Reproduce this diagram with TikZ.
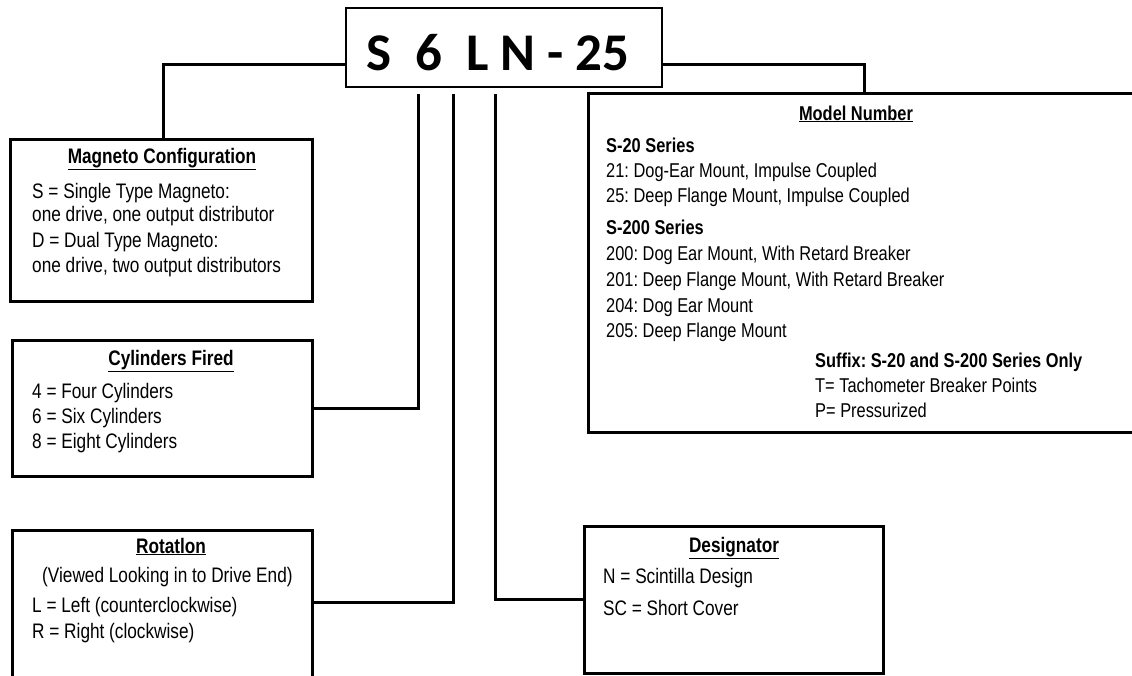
\documentclass[tikz,border=0pt]{standalone}
\usepackage{fontspec}
\setmainfont{Liberation Sans}[FakeStretch=0.82]
\newfontfamily\codefont{Carlito}
\frenchspacing
\begin{document}
\begin{tikzpicture}[x=1pt,y=-1pt,
  box/.style={draw, line width=3pt, rectangle, inner sep=0pt, outer sep=0pt},
  conn/.style={line width=3pt},
  txt/.style={anchor=base west, inner sep=0pt, font=\fontsize{21}{24}\selectfont},
  bld/.style={anchor=base west, inner sep=0pt, font=\fontsize{21}{24}\selectfont\bfseries},
  head/.style={anchor=base, inner sep=0pt, font=\fontsize{21}{24}\selectfont\bfseries},
  mtxt/.style={txt, font=\fontsize{20}{24}\selectfont},
  mbld/.style={bld, font=\fontsize{20}{24}\selectfont\bfseries},
  mhead/.style={head, font=\fontsize{20}{24}\selectfont\bfseries}]
\useasboundingbox (0,0) rectangle (1132,675);
\clip (0,0) rectangle (1132,675);
\fill[white] (0,0) rectangle (1132,675);

% code box
\node[box, line width=2pt, minimum width=316pt, minimum height=79pt] (top) at (504,47.5) {};
\node[anchor=base west, inner sep=0pt, font=\codefont\bfseries\fontsize{53}{60}\selectfont] (code) at (366,70) {S\ \ 6\ \ L N - 25};

% boxes
\node[box, minimum width=302pt, minimum height=162pt] (mag) at (161,220) {};
\node[box, minimum width=300pt, minimum height=136pt] (cyl) at (162,408) {};
\node[box, minimum width=300pt, minimum height=170pt] (rot) at (162,615) {};
\node[box, minimum width=557pt, minimum height=339pt] (model) at (866.5,262.5) {};
\node[box, minimum width=299pt, minimum height=147pt] (des) at (733.5,599.5) {};

% connector coordinates
\coordinate (jL) at (163,64);
\coordinate (jR) at (864,64);
\coordinate (v1) at (418,94);
\coordinate (v2) at (453,94);
\coordinate (v3) at (495,94);
\coordinate (hR) at (0,602);

\draw[conn] (top.west |- jL) -| (jL |- mag.north);
\draw[conn] (top.east |- jR) -| (jR |- model.north);
\draw[conn] (v1) |- (cyl.east);
\draw[conn] (v2) |- (rot.east |- hR);
\draw[conn] (v3) |- (des.west);

% Magneto Configuration
\node[head] (magh) at (162,163) {\underline{Magneto Configuration}};
\node[txt] (mag1) at (32,198) {S = Single Type Magneto:};
\node[txt] (mag2) at (32,221) {one drive, one output distributor};
\node[txt] (mag3) at (32,247) {D = Dual Type Magneto:};
\node[txt] (mag4) at (32,272) {one drive, two output distributors};

% Cylinders Fired
\node[head] (cylh) at (171,365) {\underline{Cylinders Fired}};
\node[txt] (cyl1) at (32,398) {4 = Four Cylinders};
\node[txt] (cyl2) at (32,423) {6 = Six Cylinders};
\node[txt] (cyl3) at (32,448) {8 = Eight Cylinders};

% Rotation
\node[head] (roth) at (171,553) {\underline{Rotatlon}};
\node[txt] (rot0) at (42,582) {(Viewed Looking in to Drive End)};
\node[txt] (rot1) at (32,612) {L = Left (counterclockwise)};
\node[txt] (rot2) at (32,638) {R = Right (clockwise)};

% Designator
\node[head] (desh) at (734,552) {\underline{Designator}};
\node[txt] (des1) at (603,583) {N = Scintilla Design};
\node[txt] (des2) at (603,615) {SC = Short Cover};

% Model Number
\node[mhead] (modh) at (856,120) {\underline{Model Number}};
\node[mbld] (m1) at (606,152) {S-20 Series};
\node[mtxt] (m2) at (606,177) {21: Dog-Ear Mount, Impulse Coupled};
\node[mtxt] (m3) at (606,202) {25: Deep Flange Mount, Impulse Coupled};
\node[mbld] (m4) at (606,234) {S-200 Series};
\node[mtxt] (m5) at (606,260) {200: Dog Ear Mount, With Retard Breaker};
\node[mtxt] (m6) at (606,286) {201: Deep Flange Mount, With Retard Breaker};
\node[mtxt] (m7) at (606,312) {204: Dog Ear Mount};
\node[mtxt] (m8) at (606,337) {205: Deep Flange Mount};
\node[mbld] (m9) at (815,367) {Suffix: S-20 and S-200 Series Only};
\node[mtxt] (m10) at (815,392) {T= Tachometer Breaker Points};
\node[mtxt] (m11) at (815,417) {P= Pressurized};
\end{tikzpicture}
\end{document}
